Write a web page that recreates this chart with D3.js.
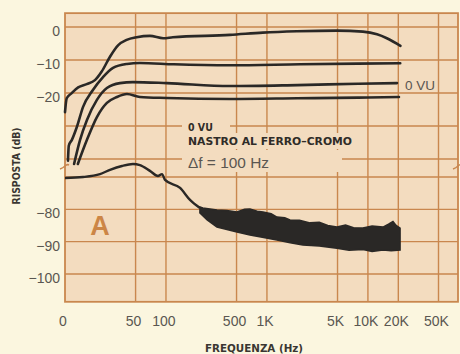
<!DOCTYPE html>
<html>
<head>
<meta charset="utf-8">
<script src="https://cdn.jsdelivr.net/npm/d3@7"></script>
<style>
  html, body { margin: 0; padding: 0; background: #fbf6df; }
  svg { display: block; }
</style>
</head>
<body>
<div id="chart"></div>
<script>
// frequency ticks (Hz) and their printed labels
const freqTicks = [10, 50, 100, 500, 1000, 5000, 10000, 20000, 50000];
const freqLabels = ['0', '50', '100', '500', '1K', '5K', '10K', '20K', '50K'];

// y axis is broken: upper part 0..-40, lower part -70..-100
const upperLines = [0, -10, -20, -30, -40];
const lowerLines = [-70, -80, -90, -100];
const upperLabels = [0, -10, -20];
const lowerLabels = [-80, -90, -100];

// response curves [Hz, dB]
const curveTop = [[10, -25.8], [10.4, -21.6], [11.6, -20.1], [13.5, -18.3], [16.4, -17.3], [19.8, -16.1],
  [23.1, -13.5], [27.9, -9], [33.7, -5.5], [40.8, -3.9], [51.3, -3.1], [69.4, -2.7], [94, -3.4],
  [117, -3.1], [430, -2.4], [910, -1.7], [1980, -1.3], [4930, -1.1], [8920, -1.4], [12300, -2.2],
  [15400, -3.4], [21000, -5.7]];
const curveM10 = [[10.7, -40.5], [10.9, -36], [11.7, -34.2], [13.1, -30.3], [15.1, -24.2], [18.9, -19.1],
  [23.8, -15.2], [29.9, -12.4], [41.1, -11.2], [55.2, -10.9], [120, -11.3], [430, -11.6], [2140, -11.3],
  [8000, -11.1], [20900, -11.0]];
const curve0VU = [[12.3, -41.5], [14.1, -34.2], [16.5, -28.2], [20.7, -22.1], [26, -18.5], [35, -17],
  [47.1, -16.7], [102, -17], [430, -17.9], [2000, -17.6], [8000, -17.2], [19400, -17]];
const curveM20 = [[13.4, -41.5], [16.5, -34.2], [20.7, -27.3], [26, -23], [32.7, -21.2], [41.1, -20.3],
  [55.2, -21.2], [102, -21.5], [430, -21.8], [2000, -21.6], [8000, -21.4], [20300, -21.2]];

// noise floor, lower scale
const noiseLine = [[10, -70.3], [15.1, -70], [22.2, -69.1], [27.9, -67.8], [36.7, -66.6], [47.1, -66],
  [55.2, -66.3], [69.4, -68.1], [83.3, -69.7], [91.4, -69.1], [97.9, -70.9], [138, -73.4], [173, -77.1],
  [217, -79.6]];
const noiseTop = [[217, -79.3], [232, -79.6], [320, -80.2], [400, -80.4], [505, -80.8], [600, -80.0],
  [679, -79.9], [800, -80.6], [913, -80.8], [1100, -81.4], [1256, -82.4], [1500, -82.6], [1690, -83.3],
  [2100, -83.4], [2670, -84.2], [3300, -84.0], [4000, -85.0], [4930, -85.5], [6000, -84.9], [7200, -85.7],
  [8920, -85.8], [11000, -85.2], [14100, -85.5], [16000, -84.6], [17700, -83.8], [19000, -85.0], [20800, -85.8]];
const noiseBot = [[217, -81.1], [256, -83.3], [320, -85.5], [505, -87], [679, -87.9], [900, -88.6],
  [1256, -89.5], [1700, -90.3], [2270, -91], [3300, -91.3], [4930, -92], [6500, -92.6], [8920, -92.4],
  [11000, -93.0], [14100, -92.6], [17000, -92.8], [20800, -92.6]];

const width = 460, height = 354;
const plotLeft = 65, plotRight = 458;
const topDb = 4.2, bottomDb = -108.6;

const svg = d3.select('#chart').append('svg')
  .attr('width', width)
  .attr('height', height);

const x = d3.scaleLog().domain([10, 78000]).range([plotLeft, plotRight]);
const yTop = d3.scaleLinear().domain([0, -40]).range([27, 159]);
const yBot = d3.scaleLinear().domain([-70, -100]).range([177, 274]);

const gridColor = '#c9874e';
const plotBg = '#f3dcbf';
const ink = '#2a2826';

const plotTop = yTop(topDb), plotBottom = yBot(bottomDb);

// plot background
svg.append('rect')
  .attr('x', plotLeft).attr('y', plotTop)
  .attr('width', plotRight - plotLeft).attr('height', plotBottom - plotTop)
  .attr('fill', plotBg);

// grid
const grid = svg.append('g').attr('stroke', gridColor).attr('stroke-width', 1.4);
grid.selectAll('.v').data(freqTicks.slice(1)).enter().append('line')
  .attr('x1', d => x(d)).attr('x2', d => x(d))
  .attr('y1', plotTop).attr('y2', plotBottom);
grid.selectAll('.hu').data(upperLines).enter().append('line')
  .attr('x1', plotLeft).attr('x2', plotRight)
  .attr('y1', d => yTop(d)).attr('y2', d => yTop(d));
grid.selectAll('.hl').data(lowerLines).enter().append('line')
  .attr('x1', plotLeft).attr('x2', plotRight)
  .attr('y1', d => yBot(d)).attr('y2', d => yBot(d));
grid.append('rect')
  .attr('x', plotLeft).attr('y', plotTop)
  .attr('width', plotRight - plotLeft).attr('height', plotBottom - plotTop)
  .attr('fill', 'none').attr('stroke-width', 1.8);

// axis break marks
const breakY = 167;
[plotLeft, plotRight].forEach(px => {
  svg.append('path')
    .attr('d', `M${px - 5},${breakY + 2} q3,-1 5,-3 q2,-2 4,-1`)
    .attr('fill', 'none').attr('stroke', gridColor).attr('stroke-width', 1.6);
});

// annotation with plot-coloured patches over the grid
const ann = svg.append('g');
ann.append('rect').attr('x', 182).attr('y', 119).attr('width', 48).attr('height', 15).attr('fill', plotBg);
ann.append('rect').attr('x', 182).attr('y', 133).attr('width', 172).attr('height', 16).attr('fill', plotBg);
ann.append('rect').attr('x', 182).attr('y', 150).attr('width', 160).attr('height', 22).attr('fill', plotBg);
const condensed = '"Liberation Sans Narrow", "DejaVu Sans Condensed", "Roboto Condensed", sans-serif';
ann.append('text').attr('x', 188).attr('y', 130.5)
  .style('font-family', condensed).style('font-weight', 'bold').style('font-size', '10.5px')
  .attr('fill', '#2f2c28').text('0 VU');
ann.append('text').attr('x', 188).attr('y', 144.5)
  .attr('textLength', 164).attr('lengthAdjust', 'spacingAndGlyphs')
  .style('font-family', condensed).style('font-weight', 'bold').style('font-size', '11px')
  .attr('fill', '#2f2c28').text('NASTRO AL FERRO\u2013CROMO');
ann.append('text').attr('x', 188).attr('y', 167.5)
  .attr('textLength', 81).attr('lengthAdjust', 'spacingAndGlyphs')
  .style('font-family', '"Liberation Sans", Arial, sans-serif').style('font-size', '14px')
  .attr('fill', '#5a5651').text('\u0394f = 100 Hz');

// big "A"
svg.append('text').attr('x', 100).attr('y', 235)
  .attr('text-anchor', 'middle')
  .style('font-family', '"Liberation Sans", Arial, sans-serif').style('font-weight', 'bold')
  .style('font-size', '27px').attr('fill', '#cc8646').text('A');

// curves
const lineTop = d3.line().x(d => x(d[0])).y(d => yTop(d[1])).curve(d3.curveMonotoneX);
const lineBot = d3.line().x(d => x(d[0])).y(d => yBot(d[1])).curve(d3.curveMonotoneX);

[curveTop, curveM10, curve0VU, curveM20].forEach(c => {
  svg.append('path').attr('d', lineTop(c))
    .attr('fill', 'none').attr('stroke', ink).attr('stroke-width', 2.6)
    .attr('stroke-linejoin', 'round').attr('stroke-linecap', 'round');
});

svg.append('path').attr('d', lineBot(noiseLine))
  .attr('fill', 'none').attr('stroke', ink).attr('stroke-width', 2.4)
  .attr('stroke-linejoin', 'round');

const band = noiseTop.concat(noiseBot.slice().reverse());
svg.append('path')
  .attr('d', d3.line().x(d => x(d[0])).y(d => yBot(d[1])).curve(d3.curveLinearClosed)(band))
  .attr('fill', ink).attr('stroke', ink).attr('stroke-width', 1.6)
  .attr('stroke-linejoin', 'miter');

// "0 VU" side label
svg.append('text').attr('x', 405).attr('y', 90)
  .style('font-family', '"Liberation Sans", Arial, sans-serif').style('font-size', '13.5px')
  .attr('fill', '#5a5651').text('0 VU');

// tick labels
const tickFont = '"Liberation Sans", Arial, sans-serif';
svg.selectAll('.xl').data(freqTicks).enter().append('text')
  .attr('x', d => x(d) - 2).attr('y', 326)
  .attr('text-anchor', 'middle')
  .style('font-family', tickFont).style('font-size', '14px')
  .attr('fill', '#5a5651')
  .text((d, i) => freqLabels[i]);

const fmt = d => d === 0 ? '0' : '\u2212' + Math.abs(d);
svg.selectAll('.yu').data(upperLabels).enter().append('text')
  .attr('x', 60).attr('y', d => yTop(d) + 9)
  .attr('text-anchor', 'end')
  .style('font-family', tickFont).style('font-size', '14px')
  .attr('fill', '#5a5651').text(fmt);
svg.selectAll('.yl').data(lowerLabels).enter().append('text')
  .attr('x', 60).attr('y', d => yBot(d) + 9)
  .attr('text-anchor', 'end')
  .style('font-family', tickFont).style('font-size', '14px')
  .attr('fill', '#5a5651').text(fmt);

// axis titles
svg.append('text')
  .attr('transform', 'translate(20,166) rotate(-90)')
  .attr('text-anchor', 'middle')
  .attr('textLength', 77).attr('lengthAdjust', 'spacingAndGlyphs')
  .style('font-family', condensed).style('font-weight', 'bold').style('font-size', '10.5px')
  .attr('fill', '#3a3632').text('RISPOSTA (dB)');
svg.append('text')
  .attr('x', 254).attr('y', 352)
  .attr('text-anchor', 'middle')
  .attr('textLength', 98).attr('lengthAdjust', 'spacingAndGlyphs')
  .style('font-family', condensed).style('font-weight', 'bold').style('font-size', '11px')
  .attr('fill', '#3a3632').text('FREQUENZA (Hz)');
</script>
</body>
</html>
